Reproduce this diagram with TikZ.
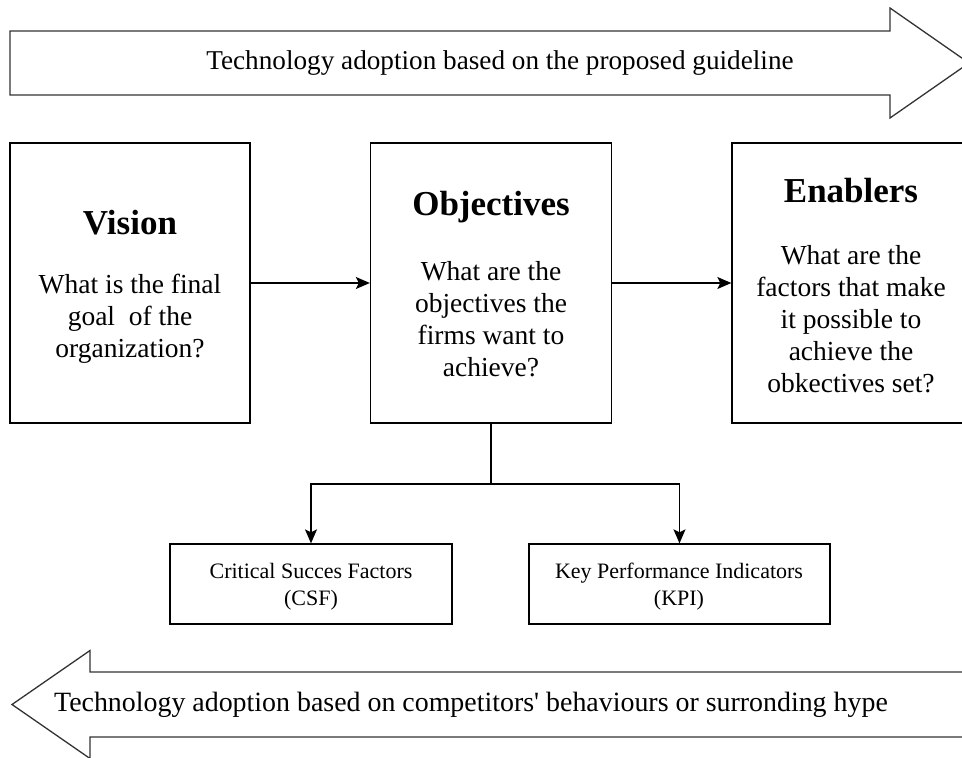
\documentclass[tikz,border=0pt]{standalone}
\usepackage{fontspec}
\setmainfont{Liberation Serif}
\newfontfamily\straightserif{Liberation Serif}
\usetikzlibrary{arrows.meta}
\begin{document}
\begin{tikzpicture}[x=1pt,y=-1pt,
  box/.style={draw=black, line width=1.3pt, inner sep=0pt},
  bigarrow/.style={draw=black!80, line width=1.3pt, fill=white, line join=miter},
  conn/.style={draw=black, line width=1.3pt, -{Stealth[length=14pt,width=12pt,inset=3pt]}},
  plainline/.style={draw=black, line width=1.3pt},
  titletext/.style={font=\fontsize{35}{42}\selectfont\bfseries, inner sep=0pt},
  bodytext/.style={font=\fontsize{27.5}{32}\selectfont, align=center, inner sep=0pt},
  smalltext/.style={font=\fontsize{22}{27}\selectfont, align=center, inner sep=0pt},
  arrowtext/.style={font=\fontsize{27.2}{32}\selectfont, inner sep=0pt},
  arrowtextb/.style={font=\fontsize{27.9}{32}\selectfont, inner sep=0pt}]
\useasboundingbox (0,0) rectangle (962,758);
\clip (0,0) rectangle (962,758);

% top big arrow
\path[bigarrow] (10,31) -- (890,31) -- (890,8) -- (969,63) -- (890,118) -- (890,95) -- (10,95) -- cycle;
\node[arrowtext] (toptext) at (500,63) {Technology adoption based on the proposed guideline};

% bottom big arrow
\path[bigarrow] (12,704.5) -- (90,650.5) -- (90,672) -- (980,672) -- (980,737) -- (90,737) -- (90,758.5) -- cycle;
\node[arrowtextb] (bottomtext) at (471,704.5) {Technology adoption based on competitors{\straightserif '} behaviours or surronding hype};

% main boxes
\node[box, minimum width=240pt, minimum height=280pt] (vision) at (130,283) {};
\node[box, minimum width=241pt, minimum height=280pt] (obj) at (491,283) {};
\node[box, minimum width=240pt, minimum height=280pt] (enab) at (852,283) {};

\node[titletext] (visiont) at (130,223) {Vision};
\node[bodytext] (visionb) at (130,319) {What is the final\\goal\ \ of the\\organization?};

\node[titletext] (objt) at (491,207) {Objectives};
\node[bodytext] (objb) at (491,319) {What are the\\objectives the\\firms want to\\achieve?};

\node[titletext] (enabt) at (851,191) {Enablers};
\node[bodytext] (enabb) at (851,319) {What are the\\factors that make\\it possible to\\achieve the\\obkectives set?};

% small boxes
\node[box, minimum width=282pt, minimum height=80pt] (csf) at (311,584) {};
\node[smalltext] (csft) at (311,586.5) {Critical Succes Factors\\(CSF)};
\node[box, minimum width=301pt, minimum height=80pt] (kpi) at (679.5,584) {};
\node[smalltext] (kpit) at (679,586.5) {Key Performance Indicators\\(KPI)};

% connectors
\draw[conn] (vision.east) -- (obj.west);
\draw[conn] (obj.east) -- (enab.west);
\coordinate (split) at (491,484);
\draw[plainline] (obj.south) -- (split);
\draw[conn] (split) -| (csf.north);
\draw[conn] (split) -| (kpi.north);
\end{tikzpicture}
\end{document}
